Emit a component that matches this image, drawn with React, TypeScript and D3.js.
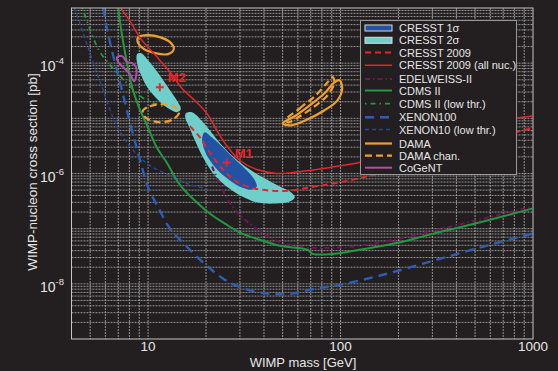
import React from "react";
import * as d3 from "d3";

type Pt = [number, number];

// exclusion limits: [WIMP mass GeV, cross section pb]
const cresst2009All: Pt[] = [
  [7.2, 1e-3], [8.1, 5.6e-4], [9.1, 2.85e-4], [10.9, 1.4e-4], [13.0, 6.9e-5],
  [15.0, 3.5e-5], [17.5, 2.1e-5], [20.2, 1.23e-5], [22.8, 6.0e-6], [25.6, 3.2e-6],
  [30, 1.72e-6], [36.7, 1.18e-6], [46.6, 1.0e-6], [61, 1.08e-6], [88, 1.29e-6],
  [125, 1.58e-6], [202, 2.6e-6], [367, 5.3e-6], [570, 8.1e-6], [990, 1.1e-5],
];
const cresst2009: Pt[] = [
  [16.5, 7.2e-6], [18.6, 4.5e-6], [20.9, 2.4e-6], [24.2, 1.23e-6], [28.2, 7.5e-7],
  [33.8, 5.6e-7], [42.8, 4.9e-7], [54.4, 4.9e-7], [73.3, 5.8e-7], [105, 7.2e-7],
  [150, 9.6e-7], [257, 1.72e-6], [466, 3.2e-6], [846, 5.8e-6], [990, 6.6e-6],
];
const edelweiss: Pt[] = [
  [21.5, 1.34e-6], [23.1, 7.5e-7], [24.8, 4.5e-7], [27.2, 2.62e-7], [31.0, 1.58e-7],
  [38, 9.2e-8], [46.6, 6.05e-8], [61.4, 4.7e-8], [91, 4.5e-8], [136, 5.1e-8],
  [202, 6.6e-8], [289, 8.8e-8], [525, 1.46e-7], [990, 2.5e-7],
];
const cdms: Pt[] = [
  [7.0, 1e-3], [7.25, 4e-4], [7.6, 1.52e-4], [8.26, 3.66e-5], [9.1, 1.4e-5],
  [9.88, 7.5e-6], [11.1, 2.97e-6], [12.5, 1.58e-6], [14.6, 6.3e-7], [17.5, 3.23e-7],
  [20.9, 1.88e-7], [25.1, 1.23e-7], [30, 8.5e-8], [38, 6.3e-8], [48.3, 4.9e-8],
  [67.5, 4.15e-8], [71.6, 3.5e-8], [93, 3.5e-8], [125, 4.15e-8], [202, 5.6e-8],
  [289, 7.8e-8], [525, 1.29e-7], [990, 2.31e-7],
];
const cdmsLow: Pt[] = [
  [4.55, 1e-3], [4.83, 5.6e-4], [5.19, 2.85e-4], [5.63, 1.58e-4], [6.35, 9.2e-5],
  [7.16, 5.8e-5], [8.26, 3.5e-5], [9.65, 2.2e-5], [11.1, 1.8e-5], [12.4, 1.58e-5],
];
const xenon100: Pt[] = [
  [5.85, 1e-3], [6.06, 4.9e-4], [6.35, 2.31e-4], [6.74, 1e-4], [7.16, 4.33e-5],
  [7.6, 1.88e-5], [8.07, 8.1e-6], [8.57, 3.66e-6], [9.1, 1.72e-6], [10, 5.6e-7],
  [11.3, 2.41e-7], [13.0, 1e-7], [15.9, 4.7e-8], [20.2, 2.12e-8], [25.1, 1.18e-8],
  [31.8, 8.1e-9], [42.8, 6.6e-9], [54.4, 6.6e-9], [73.3, 8.1e-9], [98.8, 9.6e-9],
  [159, 1.4e-8], [289, 2.5e-8], [525, 4.5e-8], [990, 8.1e-8],
];
const xenon10: Pt[] = [
  [4.14, 1e-3], [4.45, 4.9e-4], [4.83, 2.12e-4], [5.31, 8.1e-5], [5.85, 3.23e-5],
  [6.5, 1.13e-5], [7.33, 4.9e-6], [8.57, 2.41e-6], [10.2, 1.4e-6], [13.0, 9.2e-7],
  [16.5, 6.3e-7], [20.2, 5.3e-7],
];

// allowed regions (closed contours)
const cresst2sigmaM1: Pt[] = [
  [15.7, 1.23e-5], [16.9, 1.29e-5], [19.3, 8.5e-6], [22.8, 4.15e-6], [27.6, 2.04e-6],
  [33.8, 1.18e-6], [40.4, 8.1e-7], [48.3, 5.8e-7], [55.7, 4.5e-7], [57.8, 3.66e-7],
  [54.4, 3.1e-7], [45.5, 2.85e-7], [37.2, 2.97e-7], [31.0, 3.8e-7], [26.0, 5.6e-7],
  [22.2, 9.2e-7], [19.7, 1.72e-6], [17.7, 3.66e-6], [16.3, 7.2e-6], [15.6, 1.04e-5],
];
const cresst2sigmaM2: Pt[] = [
  [8.77, 1.46e-4], [9.2, 1.52e-4], [10.2, 1.04e-4], [11.5, 6.05e-5], [13.0, 3.23e-5],
  [14.3, 1.95e-5], [14.8, 1.46e-5], [14.1, 1.29e-5], [12.7, 1.52e-5], [11.3, 2.12e-5],
  [10.0, 3.5e-5], [9.2, 6.05e-5], [8.77, 1.0e-4],
];
const cresst1sigma: Pt[] = [
  [19.7, 5.6e-6], [21.5, 4.5e-6], [24.2, 3.1e-6], [27.6, 1.95e-6], [31.8, 1.23e-6],
  [35.4, 8.1e-7], [36.7, 5.8e-7], [34.6, 5.1e-7], [30.7, 5.6e-7], [26.6, 7.5e-7],
  [23.1, 1.13e-6], [20.5, 1.95e-6], [19.3, 3.2e-6], [19.1, 4.5e-6],
];
const damaLow: Pt[] = [
  [8.88, 2.97e-4], [10, 3.23e-4], [11.5, 2.97e-4], [13.0, 2.41e-4], [13.6, 1.8e-4],
  [12.7, 1.46e-4], [10.87, 1.52e-4], [9.53, 1.8e-4], [8.88, 2.31e-4],
];
const damaHigh: Pt[] = [
  [50, 8.1e-6], [57.8, 1.09e-5], [69.1, 1.72e-5], [82.6, 2.85e-5], [93, 4.5e-5],
  [98.8, 4.9e-5], [102, 3.5e-5], [96.4, 2.12e-5], [82.6, 1.4e-5], [67.5, 9.6e-6],
  [55.7, 7.5e-6],
];
const damaChanLow: Pt[] = [
  [9.42, 1.4e-5], [10.2, 1.65e-5], [11.8, 1.8e-5], [13.5, 1.65e-5], [14.5, 1.29e-5],
  [13.5, 9.6e-6], [11.5, 8.5e-6], [10, 9.6e-6], [9.42, 1.18e-5],
];
const damaChanHigh: Pt[] = [
  [51.9, 9.2e-6], [61.4, 1.52e-5], [73.3, 2.5e-5], [85.7, 4.5e-5], [91, 5.6e-5],
  [93, 4.5e-5], [85.7, 2.62e-5], [73.3, 1.65e-5], [61.4, 1.09e-5], [53.8, 8.5e-6],
];
const cogent: Pt[] = [
  [6.9, 1.29e-4], [7.33, 1.34e-4], [7.78, 1.04e-4], [8.26, 1e-4], [8.66, 8.5e-5],
  [8.66, 5.8e-5], [8.46, 4.7e-5], [8.07, 6.3e-5], [7.51, 8.1e-5], [7.0, 1.04e-4],
];

const bestFits = [
  { name: "M1", mass: 25.6, sigma: 1.58e-6 },
  { name: "M2", mass: 11.5, sigma: 3.66e-5 },
];

const xTicks = [10, 100, 1000];
const yTicks = [1e-8, 1e-6, 1e-4];

const legendItems = [
  { label: "CRESST 1σ", kind: "patch", color: "#2352a4" },
  { label: "CRESST 2σ", kind: "patch", color: "#6fd0cb" },
  { label: "CRESST 2009", kind: "line", color: "#e8252b", dash: "6,4", w: 2 },
  { label: "CRESST 2009 (all nuc.)", kind: "line", color: "#e8252b", dash: "", w: 1.5 },
  { label: "EDELWEISS-II", kind: "line", color: "#74125a", dash: "5,3,1.5,3", w: 2 },
  { label: "CDMS II", kind: "line", color: "#23993f", dash: "", w: 2 },
  { label: "CDMS II (low thr.)", kind: "line", color: "#23993f", dash: "1.5,4,5,4", w: 1.8 },
  { label: "XENON100", kind: "line", color: "#2c5eb4", dash: "9,6", w: 2.4 },
  { label: "XENON10 (low thr.)", kind: "line", color: "#23479a", dash: "4,3", w: 1.4 },
  { label: "DAMA", kind: "line", color: "#f0a02a", dash: "", w: 2.2 },
  { label: "DAMA chan.", kind: "line", color: "#f0a02a", dash: "7,4", w: 2.2 },
  { label: "CoGeNT", kind: "line", color: "#b04fa6", dash: "", w: 2 },
];
const legendRowY = [28, 40.3, 52.5, 65.3, 79, 90.5, 103.7, 117.3, 129.5, 143.5, 155.7, 167.7];

const W = 558;
const H = 371;
const BG = "#231f20";
const FONT = "'Liberation Sans', Arial, sans-serif";

export default function App() {
  const x = d3.scaleLog().domain([4, 1000]).range([71.5, 533]);
  const y = d3.scaleLog().domain([1e-9, 1e-3]).range([339, 8]);

  const line = d3
    .line<Pt>()
    .x((d) => x(d[0]))
    .y((d) => y(d[1]))
    .curve(d3.curveCatmullRom.alpha(0.5));
  const closed = d3
    .line<Pt>()
    .x((d) => x(d[0]))
    .y((d) => y(d[1]))
    .curve(d3.curveCatmullRomClosed.alpha(0.5));

  const xGrid: number[] = [];
  for (let e = 0; e <= 2; e++)
    for (let k = 1; k <= 9; k++) {
      const v = k * 10 ** e;
      if (v > 4 && v < 1000) xGrid.push(v);
    }
  const yGrid: number[] = [];
  for (let e = -9; e <= -4; e++)
    for (let k = 1; k <= 9; k++) {
      const v = k * 10 ** e;
      if (v > 1e-9 * 1.001 && v < 1e-3 * 0.999) yGrid.push(v);
    }

  const [x0, x1] = x.range();
  const [y0, y1] = y.range();
  const c = (i: number) => legendItems[i];

  return (
    <svg
      width={W}
      height={H}
      style={{ position: "fixed", left: 0, top: 0, background: BG }}
      fontFamily={FONT}
    >
      <rect width={W} height={H} fill={BG} />
      <defs>
        <clipPath id="plot">
          <rect x={x0} y={y1} width={x1 - x0} height={y0 - y1} />
        </clipPath>
      </defs>

      {/* grid */}
      <g stroke="#c8c8c8" strokeWidth={0.8} strokeDasharray="2,1" opacity={0.85}>
        {xGrid.map((v) => (
          <line key={"gx" + v} x1={x(v)} x2={x(v)} y1={y1} y2={y0} />
        ))}
        {yGrid.map((v) => (
          <line key={"gy" + v} x1={x0} x2={x1} y1={y(v)} y2={y(v)} />
        ))}
      </g>

      <g clipPath="url(#plot)" fill="none" strokeLinecap="butt">
        <path d={closed(cresst2sigmaM1)!} fill={c(1).color} stroke="none" />
        <path d={closed(cresst2sigmaM2)!} fill={c(1).color} stroke="none" />
        <path d={closed(cresst1sigma)!} fill={c(0).color} stroke="none" />

        <path d={line(xenon10)!} stroke={c(8).color} strokeWidth={c(8).w} strokeDasharray={c(8).dash} />
        <path d={line(xenon100)!} stroke={c(7).color} strokeWidth={c(7).w} strokeDasharray={c(7).dash} />
        <path d={line(cdmsLow)!} stroke={c(6).color} strokeWidth={c(6).w} strokeDasharray={c(6).dash} />
        <path d={line(edelweiss)!} stroke={c(4).color} strokeWidth={c(4).w} strokeDasharray={c(4).dash} />
        <path d={line(cdms)!} stroke={c(5).color} strokeWidth={c(5).w} />
        <path d={closed(cogent)!} stroke={c(11).color} strokeWidth={c(11).w} />
        <path d={closed(damaLow)!} stroke={c(9).color} strokeWidth={c(9).w} />
        <path d={closed(damaHigh)!} stroke={c(9).color} strokeWidth={c(9).w} />
        <path d={closed(damaChanLow)!} stroke={c(10).color} strokeWidth={c(10).w} strokeDasharray={c(10).dash} />
        <path d={closed(damaChanHigh)!} stroke={c(10).color} strokeWidth={c(10).w} strokeDasharray={c(10).dash} />
        <path d={line(cresst2009)!} stroke={c(2).color} strokeWidth={c(2).w} strokeDasharray={c(2).dash} />
        <path d={line(cresst2009All)!} stroke={c(3).color} strokeWidth={c(3).w} />
      </g>

      {/* best fit points */}
      {bestFits.map((b) => {
        const px = x(b.mass);
        const py = y(b.sigma);
        return (
          <g key={b.name} stroke="#e8252b" strokeWidth={2}>
            <line x1={px - 4} x2={px + 4} y1={py} y2={py} />
            <line x1={px} x2={px} y1={py - 4} y2={py + 4} />
            <text
              x={px + 8}
              y={py - 5}
              stroke="none"
              fill="#e8252b"
              fontSize={13}
              fontWeight="bold"
            >
              {b.name}
            </text>
          </g>
        );
      })}

      {/* frame */}
      <rect x={x0} y={y1} width={x1 - x0} height={y0 - y1} fill="none" stroke="#c4c4c4" strokeWidth={1} />

      {/* axes labels */}
      <g fill="#e6e6e6" fontSize={13.5}>
        {xTicks.map((t) => (
          <text key={"xt" + t} x={x(t)} y={351} textAnchor="middle">
            {t}
          </text>
        ))}
        {yTicks.map((t) => (
          <text key={"yt" + t} x={64} y={y(t) + 8} textAnchor="end" fontSize={14}>
            10
            <tspan dy={-7} fontSize={9.5}>
              {Math.round(Math.log10(t))}
            </tspan>
          </text>
        ))}
        <text x={303} y={367} textAnchor="middle" fontSize={13}>
          WIMP mass [GeV]
        </text>
        <text
          transform={`translate(37,172) rotate(-90)`}
          textAnchor="middle"
          fontSize={13.5}
        >
          WIMP-nucleon cross section [pb]
        </text>
      </g>

      {/* legend */}
      <g>
        <rect x={360.5} y={20.5} width={156} height={154} fill={BG} stroke="#9a9a9a" strokeWidth={1} />
        {legendItems.map((it, i) => {
          const ly = legendRowY[i];
          return (
            <g key={it.label}>
              {it.kind === "patch" ? (
                <rect x={365} y={ly - 3} width={27} height={6} fill={it.color} stroke="#dcdcdc" strokeWidth={1} />
              ) : (
                <line
                  x1={365}
                  x2={392}
                  y1={ly}
                  y2={ly}
                  stroke={it.color}
                  strokeWidth={it.w}
                  strokeDasharray={it.dash}
                />
              )}
              <text x={399} y={ly + 4} fill="#e6e6e6" fontSize={11}>
                {it.label}
              </text>
            </g>
          );
        })}
      </g>
    </svg>
  );
}
